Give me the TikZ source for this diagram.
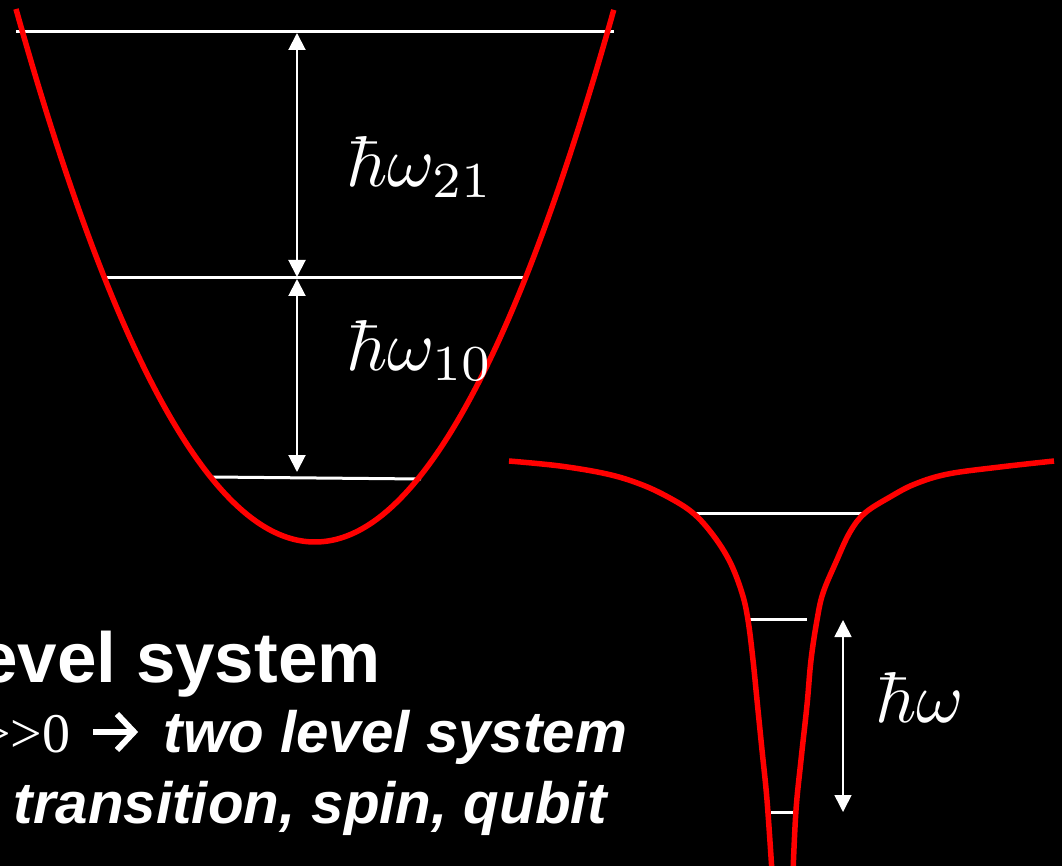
\documentclass[tikz,border=0pt]{standalone}
\usepackage{fontspec}
\usepackage{graphicx}
\newfontfamily\arialfont{Liberation Sans}
\newfontfamily\serffont{Liberation Serif}
\usetikzlibrary{arrows.meta}
\definecolor{potred}{RGB}{255,0,0}
\tikzset{
  level/.style={draw=white, line width=3pt},
  pot/.style={draw=potred, line width=5.5pt},
  gap/.style={draw=white, line width=2pt, {Triangle[length=17pt,width=17pt]}-{Triangle[length=17pt,width=17pt]}},
  lbl/.style={text=white, inner sep=0pt},
  bigtxt/.style={text=white, inner sep=0pt, font=\arialfont\bfseries\fontsize{71}{80}\selectfont},
  ittxt/.style={text=white, inner sep=0pt, font=\arialfont\bfseries\itshape\fontsize{58.3}{64}\selectfont},
  chev/.style={draw=white, line width=6pt, miter limit=10},
}
\newcommand{\biglbl}[1]{\scalebox{7.2}{$#1$}}
\begin{document}
\begin{tikzpicture}[x=1pt,y=-1pt]
\useasboundingbox (0,0) rectangle (1062,866);
\clip (0,0) rectangle (1062,866);
\fill[black] (0,0) rectangle (1062,866);

% harmonic well levels
\coordinate (h2l) at (16,32);   \coordinate (h2r) at (614,32);
\coordinate (h1l) at (104,278); \coordinate (h1r) at (527,278);
\coordinate (h0l) at (212,477); \coordinate (h0r) at (421,479);
\draw[level] (h2l) -- (h2r);
\draw[level] (h1l) -- (h1r);
\draw[level] (h0l) -- (h0r);

\coordinate (a2t) at (297,33);
\coordinate (a2b) at (297,277);
\coordinate (a1t) at (297,279);
\coordinate (a1b) at (297,472);
\draw[gap] (a2t) -- (a2b);
\draw[gap] (a1t) -- (a1b);

\draw[pot, domain=-1:1, samples=120, smooth] plot ({315+299*\x}, {542-533*\x*\x});

\node[lbl, anchor=base west] (w21) at (346,187) {\biglbl{\hbar\omega_{21}}};
\node[lbl, anchor=base west] (w10) at (346,370) {\biglbl{\hbar\omega_{10}}};

% anharmonic well levels
\coordinate (q2l) at (695,513); \coordinate (q2r) at (864,513);
\coordinate (q1l) at (750,619); \coordinate (q1r) at (807,619);
\coordinate (q0l) at (771,812); \coordinate (q0r) at (793,812);
\draw[level] (q2l) -- (q2r);
\draw[level] (q1l) -- (q1r);
\draw[level] (q0l) -- (q0r);

\coordinate (bt) at (843,620);
\coordinate (bb) at (843,812);
\draw[gap, line width=1.6pt] (bt) -- (bb);

\draw[pot] plot[smooth, tension=0.6] coordinates {(509,461) (560,466) (607,474) (640,484) (668,497) (693,513) (713,535) (730,562) (742,593) (748,620) (753,660) (757,700) (762,750) (767,800) (772,872)};
\draw[pot] plot[smooth, tension=0.6] coordinates {(1054,461) (1000,467) (948,474) (915,484) (890,497) (865,513) (850,532) (836,562) (823,593) (817,620) (811,660) (807,705) (801,760) (796,810) (793,872)};

\node[lbl, anchor=base west] (w) at (875,722) {\biglbl{\hbar\omega}};

% text
\node[bigtxt, anchor=base west] (t1) at (-22,682) {evel system};
\node[text=white, inner sep=0pt, anchor=base west, font=\serffont\fontsize{56}{60}\selectfont] (t2a) at (-21,752) {>>0};
\coordinate (arl) at (93,732);
\coordinate (arr) at (134,732);
\coordinate (aru) at (117,714);
\coordinate (ard) at (117,750);
\draw[chev] (arl) -- (arr);
\draw[chev] (aru) -- (arr) -- (ard);
\node[ittxt, anchor=base west] (t2c) at (163.5,752) {two level system};
\node[ittxt, anchor=base west] (t3) at (13.5,823) {transition, spin, qubit};
\end{tikzpicture}
\end{document}
